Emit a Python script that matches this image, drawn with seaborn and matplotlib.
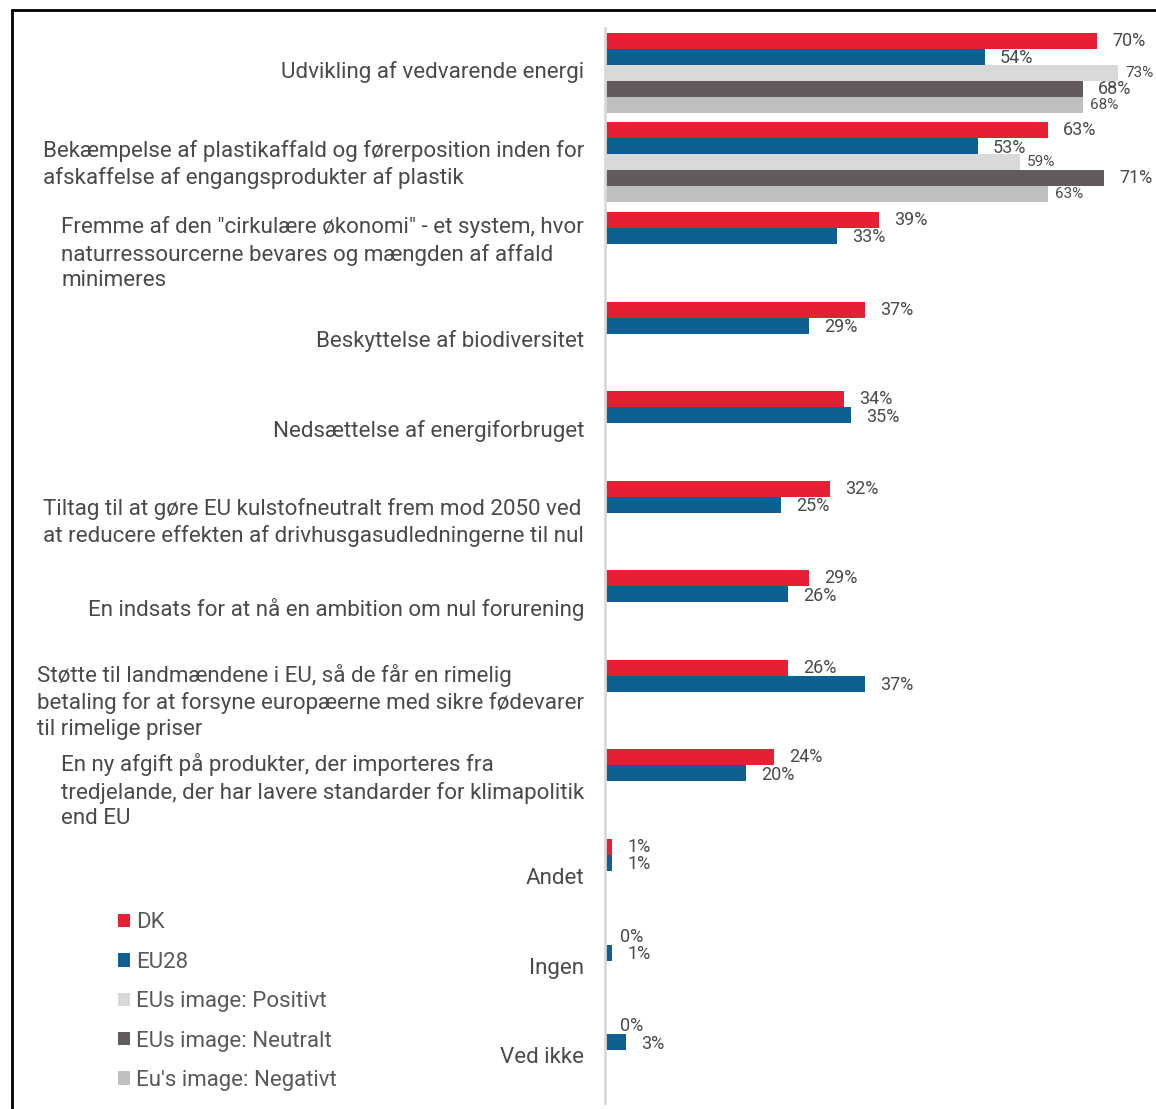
import matplotlib
matplotlib.use("Agg")
from matplotlib import pyplot as plt
from matplotlib.lines import Line2D
from matplotlib.patches import Patch
from matplotlib.transforms import ScaledTranslation
import numpy as np
import pandas
import seaborn as sns

categories = [
    "Udvikling af vedvarende energi",
    "Bekæmpelse af plastikaffald og førerposition inden for\nafskaffelse af engangsprodukter af plastik",
    "Fremme af den \"cirkulære økonomi\" - et system, hvor\nnaturressourcerne bevares og mængden af affald\nminimeres",
    "Beskyttelse af biodiversitet",
    "Nedsættelse af energiforbruget",
    "Tiltag til at gøre EU kulstofneutralt frem mod 2050 ved\nat reducere effekten af drivhusgasudledningerne til nul",
    "En indsats for at nå en ambition om nul forurening",
    "Støtte til landmændene i EU, så de får en rimelig\nbetaling for at forsyne europæerne med sikre fødevarer\ntil rimelige priser",
    "En ny afgift på produkter, der importeres fra\ntredjelande, der har lavere standarder for klimapolitik\nend EU",
    "Andet",
    "Ingen",
    "Ved ikke",
]
series = ["DK", "EU28", "EUs image: Positivt", "EUs image: Neutralt", "Eu's image: Negativt"]
dk = [70, 63, 39, 37, 34, 32, 29, 26, 24, 1, 0, 0]
eu28 = [54, 53, 33, 29, 35, 25, 26, 37, 20, 1, 1, 3]
positivt = [73, 59] + [np.nan] * 10
neutralt = [68, 71] + [np.nan] * 10
negativt = [68, 63] + [np.nan] * 10

colors = ["#E42032", "#0E6092", "#D9D9D9", "#625A5F", "#BFBFBF"]
text_color = "#4a4a4a"

rows = []
for name, vals in zip(series, [dk, eu28, positivt, neutralt, negativt]):
    for cat, v in zip(categories, vals):
        rows.append({"category": cat, "series": name, "value": v})
df = pandas.DataFrame(rows)

sns.set_style("white")
plt.rcParams["font.family"] = ["Roboto", "DejaVu Sans"]

fig = plt.figure(figsize=(11.56, 11.09), dpi=100)
ax = fig.add_axes([605 / 1156, 6 / 1109, 1 - 605 / 1156, (1103 - 28) / 1109])

sns.barplot(data=df, y="category", x="value", hue="series", order=categories,
            hue_order=series, palette=colors, orient="h", width=0.893,
            saturation=1, legend=False, ax=ax, linewidth=0)

ax.set_xlim(0, (1156 - 605) / 7.03)
ax.set_ylim(len(categories) - 0.5, -0.5)
ax.set_xlabel("")
ax.set_ylabel("")
ax.set_xticks([])
for side in ["top", "right", "bottom"]:
    ax.spines[side].set_visible(False)
ax.spines["left"].set_color("#D9D9D9")
ax.spines["left"].set_linewidth(2)
ax.tick_params(axis="y", length=0, pad=15, labelsize=16.1, labelcolor=text_color)
shift_up = ScaledTranslation(0, 3 / 100, fig.dpi_scale_trans)
for lbl in ax.get_yticklabels():
    lbl.set_multialignment("left")
    lbl.set_linespacing(1.3)
    lbl.set_transform(lbl.get_transform() + shift_up)

# value labels
small = {"EUs image: Positivt", "Eu's image: Negativt"}
for container, name in zip(ax.containers, series):
    for bar in container:
        w = bar.get_width()
        if np.isnan(w):
            continue
        y = bar.get_y() + bar.get_height() / 2
        ax.annotate(f"{w:.0f}%", (w, y), xytext=(5 if name in small else 11, -1 if name == "EU28" else 0),
                    textcoords="offset points", va="center", ha="left",
                    fontsize=11 if name in small else 13, color=text_color,
                    annotation_clip=False)

handles = [Patch(facecolor=c, edgecolor="none") for c in colors]
fig.legend(handles, series, loc="lower left", bbox_to_anchor=(98 / 1156, -2 / 1109),
           frameon=False, fontsize=16, labelcolor="#595959", handlelength=0.55,
           handleheight=0.55, handletextpad=0.25, labelspacing=0.83)

# outer frame
fig.add_artist(Line2D([12 / 1156, 1], [1 - 10 / 1109, 1 - 10 / 1109], color="black", lw=2))
fig.add_artist(Line2D([12 / 1156, 12 / 1156], [0, 1 - 10 / 1109], color="black", lw=2))

fig.savefig("out.png", dpi=100)
